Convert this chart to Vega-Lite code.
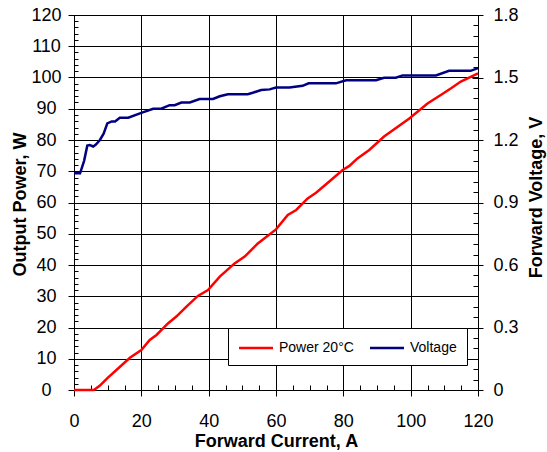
{
  "$schema": "https://vega.github.io/schema/vega-lite/v6.json",
  "width": 404,
  "height": 375,
  "autosize": {"type": "none"},
  "padding": {"left": 74, "top": 15, "right": 69, "bottom": 62},
  "background": "white",
  "config": {
    "view": {"stroke": "black", "strokeWidth": 1},
    "axis": {
      "labelFont": "Liberation Sans",
      "labelFontSize": 18,
      "labelColor": "black",
      "labelFlush": false,
      "labelOverlap": false,
      "titleFont": "Liberation Sans",
      "titleFontSize": 18,
      "titleFontWeight": "bold",
      "titleColor": "black",
      "domainColor": "black",
      "tickColor": "black",
      "gridColor": "black",
      "gridOpacity": 1,
      "gridWidth": 1
    }
  },
  "datasets": {
    "power": [
      {"I": 0, "P": 0}, {"I": 5.9, "P": 0}, {"I": 7.7, "P": 1.4}, {"I": 10, "P": 3.9},
      {"I": 12.6, "P": 6.4}, {"I": 16.6, "P": 10.3}, {"I": 20, "P": 12.8}, {"I": 22.5, "P": 16},
      {"I": 24.5, "P": 17.6}, {"I": 27.9, "P": 21.3}, {"I": 30.4, "P": 23.5}, {"I": 33.4, "P": 26.7},
      {"I": 36.8, "P": 30.1}, {"I": 39.8, "P": 32}, {"I": 43.3, "P": 36.3}, {"I": 47.7, "P": 40.5},
      {"I": 50.7, "P": 42.7}, {"I": 54.6, "P": 46.9}, {"I": 60, "P": 51.4}, {"I": 63.5, "P": 56},
      {"I": 66, "P": 57.6}, {"I": 69.4, "P": 61.3}, {"I": 71.9, "P": 63.1}, {"I": 75.4, "P": 66.3},
      {"I": 79.8, "P": 70.4}, {"I": 81.8, "P": 71.7}, {"I": 84.2, "P": 74.1}, {"I": 87.7, "P": 76.8},
      {"I": 92.1, "P": 81.1}, {"I": 99.6, "P": 86.9}, {"I": 105, "P": 91.7}, {"I": 109.4, "P": 94.7},
      {"I": 111.9, "P": 96.5}, {"I": 114.9, "P": 98.7}, {"I": 120, "P": 101.3}
    ],
    "voltage": [
      {"I": 0, "V": 1.04}, {"I": 1.8, "V": 1.04}, {"I": 3, "V": 1.1}, {"I": 3.95, "V": 1.173},
      {"I": 4.7, "V": 1.176}, {"I": 5.7, "V": 1.169}, {"I": 6.5, "V": 1.178}, {"I": 7.7, "V": 1.2},
      {"I": 8.8, "V": 1.23}, {"I": 9.9, "V": 1.28}, {"I": 11.2, "V": 1.289}, {"I": 12.2, "V": 1.289},
      {"I": 13.6, "V": 1.307}, {"I": 16.1, "V": 1.307}, {"I": 20, "V": 1.33}, {"I": 23.5, "V": 1.35},
      {"I": 25.9, "V": 1.35}, {"I": 28.4, "V": 1.367}, {"I": 29.9, "V": 1.367}, {"I": 31.9, "V": 1.38},
      {"I": 34.4, "V": 1.38}, {"I": 37.3, "V": 1.397}, {"I": 41.3, "V": 1.397}, {"I": 43.3, "V": 1.41},
      {"I": 45.7, "V": 1.42}, {"I": 51.6, "V": 1.42}, {"I": 53.1, "V": 1.427}, {"I": 55.6, "V": 1.44},
      {"I": 58.1, "V": 1.443}, {"I": 60, "V": 1.452}, {"I": 64, "V": 1.452}, {"I": 67.9, "V": 1.46},
      {"I": 69.7, "V": 1.472}, {"I": 77.8, "V": 1.472}, {"I": 80.8, "V": 1.487}, {"I": 89.7, "V": 1.487},
      {"I": 92.1, "V": 1.499}, {"I": 95.6, "V": 1.499}, {"I": 97.6, "V": 1.51}, {"I": 107.5, "V": 1.51},
      {"I": 111.4, "V": 1.532}, {"I": 117.8, "V": 1.532}, {"I": 120, "V": 1.545}
    ]
  },
  "layer": [
    {
      "data": {"name": "power"},
      "mark": {"type": "line", "strokeWidth": 2.5, "opacity": 0},
      "encoding": {
        "x": {"field": "I", "type": "quantitative", "scale": {"domain": [0, 120], "nice": false},
          "axis": {"orient": "bottom", "values": [0,5,10,15,20,25,30,35,40,45,50,55,60,65,70,75,80,85,90,95,100,105,110,115,120],
            "labels": false, "domain": false, "grid": false, "title": null, "tickSize": -5}},
        "y": {"field": "P", "type": "quantitative", "scale": {"domain": [0, 120], "nice": false, "zero": false},
          "axis": {"orient": "left", "values": [0,2,4,6,8,10,12,14,16,18,20,22,24,26,28,30,32,34,36,38,40,42,44,46,48,50,52,54,56,58,60,62,64,66,68,70,72,74,76,78,80,82,84,86,88,90,92,94,96,98,100,102,104,106,108,110,112,114,116,118,120],
            "labels": false, "domain": false, "grid": false, "title": null,
            "tickSize": {"condition": {"test": "datum.value % 10 === 0", "value": -6}, "value": -4}}}
      }
    },
    {
      "data": {"name": "voltage"},
      "mark": {"type": "line", "strokeWidth": 2.5, "opacity": 0},
      "encoding": {
        "x": {"field": "I", "type": "quantitative", "axis": null},
        "y": {"field": "V", "type": "quantitative", "scale": {"domain": [0, 1.8], "nice": false, "zero": false},
          "axis": {"orient": "right", "values": [0,0.05,0.1,0.15,0.2,0.25,0.3,0.35,0.4,0.45,0.5,0.55,0.6,0.65,0.7,0.75,0.8,0.85,0.9,0.95,1,1.05,1.1,1.15,1.2,1.25,1.3,1.35,1.4,1.45,1.5,1.55,1.6,1.65,1.7,1.75,1.8],
            "labels": false, "domain": false, "grid": false, "title": null,
            "tickSize": {"condition": {"test": "abs(datum.value / 0.3 - round(datum.value / 0.3)) < 0.01", "value": -6}, "value": -5}}}
      }
    },
    {
      "data": {"name": "power"},
      "mark": {"type": "line", "strokeWidth": 2.5},
      "encoding": {
        "x": {"field": "I", "type": "quantitative",
          "axis": {"orient": "bottom", "values": [0,20,40,60,80,100,120], "grid": true, "tickSize": 6,
            "labelPadding": 16, "labelBaseline": "top", "labelAlign": "center", "domain": true,
            "title": "Forward Current, A", "titleX": 202, "titleY": 56, "titleAlign": "center", "titleBaseline": "alphabetic"}},
        "y": {"field": "P", "type": "quantitative", "scale": {"domain": [0, 120], "nice": false, "zero": false},
          "axis": {"orient": "left", "values": [0,10,20,30,40,50,60,70,80,90,100,110,120], "grid": true, "tickSize": 6,
            "labelAlign": "center", "labelBaseline": "middle", "labelPadding": 22,
            "title": "Output Power, W", "titleX": -54, "titleY": 189, "titleAngle": -90, "titleAlign": "center", "titleBaseline": "middle"}},
        "color": {"datum": "Power  20°C",
          "scale": {"domain": ["Power  20°C", "Voltage"], "range": ["#FF0000", "#000080"]},
          "legend": {"orient": "none", "legendX": 154, "legendY": 313, "direction": "horizontal", "title": null,
            "fillColor": "white", "strokeColor": "black", "padding": 10,
            "symbolType": "M-2,0H2", "symbolSize": 289, "symbolStrokeWidth": 2.5, "symbolOffset": 8,
            "labelFont": "Liberation Sans", "labelFontSize": 14, "labelColor": "black",
            "labelOffset": 13, "columnPadding": 7}}
      }
    },
    {
      "data": {"name": "voltage"},
      "mark": {"type": "line", "strokeWidth": 2.5},
      "encoding": {
        "x": {"field": "I", "type": "quantitative", "axis": null},
        "y": {"field": "V", "type": "quantitative", "scale": {"domain": [0, 1.8], "nice": false, "zero": false},
          "axis": {"orient": "right", "values": [0,0.3,0.6,0.9,1.2,1.5,1.8], "grid": false, "tickSize": 5, "format": ".1~f",
            "labelAlign": "left", "labelBaseline": "middle", "labelPadding": 10,
            "title": "Forward Voltage, V", "titleX": 58, "titleY": 182, "titleAngle": -90, "titleAlign": "center", "titleBaseline": "middle"}},
        "color": {"datum": "Voltage"}
      }
    }
  ],
  "resolve": {
    "scale": {"y": "independent"},
    "axis": {"y": "independent", "x": "independent"}
  }
}
